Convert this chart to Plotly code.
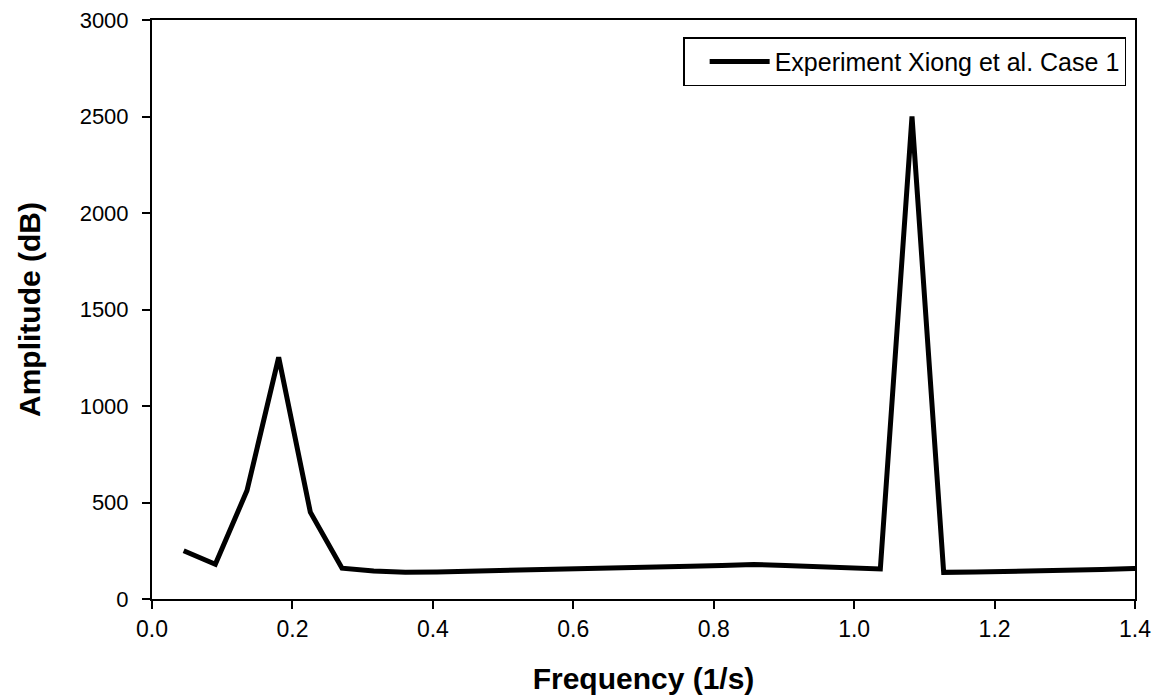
import plotly.graph_objects as go

freq = [0.0451, 0.0902, 0.1353, 0.1804, 0.2255, 0.2706, 0.3157, 0.3608, 0.4059,
        0.4510, 0.4961, 0.5412, 0.5863, 0.6314, 0.6765, 0.7216, 0.7667, 0.8118,
        0.8569, 0.9020, 0.9471, 0.9922, 1.0373, 1.0824, 1.1275, 1.1726, 1.2177,
        1.2628, 1.3079, 1.3530, 1.3981, 1.4432]
amplitude = [250, 180, 562, 1252, 450, 160, 145, 138, 140,
             143, 146, 150, 154, 158, 162, 166, 170, 174,
             179, 173, 167, 161, 156, 2500, 138, 140, 142,
             145, 149, 153, 158, 160]
series_name = "Experiment Xiong et al. Case 1"
x_ticks = [0.0, 0.2, 0.4, 0.6, 0.8, 1.0, 1.2, 1.4]
y_ticks = [0, 500, 1000, 1500, 2000, 2500, 3000]

font_family = "Liberation Sans, Arial, sans-serif"

fig = go.Figure()
fig.add_trace(go.Scatter(
    x=freq, y=amplitude, mode="lines", name=series_name,
    line=dict(color="black", width=5),
    showlegend=True,
))

fig.update_layout(
    width=1159, height=700,
    margin=dict(l=152, r=24, t=20, b=101),
    paper_bgcolor="white", plot_bgcolor="white",
    font=dict(family=font_family, color="black", size=22),
    showlegend=True,
    legend=dict(
        x=0.991, y=0.97, xanchor="right", yanchor="top",
        bordercolor="black", borderwidth=1.5, bgcolor="white",
        font=dict(size=25, family=font_family, color="black"),
        itemwidth=60, indentation=20,
    ),
)

fig.update_xaxes(
    range=[0, 1.4], tickvals=x_ticks, tickformat=".1f",
    showgrid=False, zeroline=False, automargin=False,
    showline=True, linecolor="black", linewidth=2, mirror=True,
    ticks="outside", ticklen=8, tickwidth=2, tickcolor="black",
    tickfont=dict(size=23),
    title=dict(text="<b>Frequency (1/s)</b>", font=dict(size=30), standoff=27),
)
fig.update_yaxes(
    range=[0, 3000], tickvals=y_ticks,
    showgrid=False, zeroline=False, automargin=False,
    showline=True, linecolor="black", linewidth=2, mirror=True,
    ticks="outside", ticklen=8, tickwidth=2, tickcolor="black",
    tickfont=dict(size=22), ticklabelstandoff=9,
    title=dict(text="<b>Amplitude (dB)</b>", font=dict(size=30), standoff=30),
)

fig.write_html("out.html")
